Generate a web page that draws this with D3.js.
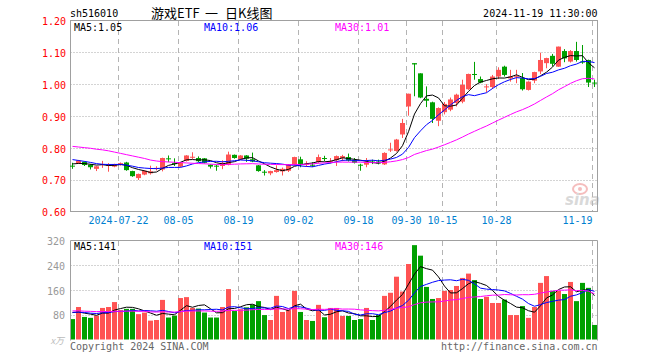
<!DOCTYPE html>
<html><head><meta charset="utf-8">
<script src="https://cdn.jsdelivr.net/npm/d3@7"></script>
<style>body{margin:0;background:#fff}svg{display:block}</style>
</head><body>
<svg id="chart" width="660" height="360"></svg>
<script>
// ---------------- data ----------------
const dates = [
"2024-07-10","2024-07-11","2024-07-12","2024-07-15","2024-07-16","2024-07-17","2024-07-18","2024-07-19","2024-07-22","2024-07-23",
"2024-07-24","2024-07-25","2024-07-26","2024-07-29","2024-07-30","2024-07-31","2024-08-01","2024-08-02","2024-08-05","2024-08-06",
"2024-08-07","2024-08-08","2024-08-09","2024-08-12","2024-08-13","2024-08-14","2024-08-15","2024-08-16","2024-08-19","2024-08-20",
"2024-08-21","2024-08-22","2024-08-23","2024-08-26","2024-08-27","2024-08-28","2024-08-29","2024-08-30","2024-09-02","2024-09-03",
"2024-09-04","2024-09-05","2024-09-06","2024-09-09","2024-09-10","2024-09-11","2024-09-12","2024-09-13","2024-09-18","2024-09-19",
"2024-09-20","2024-09-23","2024-09-24","2024-09-25","2024-09-26","2024-09-27","2024-09-30","2024-10-08","2024-10-09","2024-10-10",
"2024-10-11","2024-10-14","2024-10-15","2024-10-16","2024-10-17","2024-10-18","2024-10-21","2024-10-22","2024-10-23","2024-10-24",
"2024-10-25","2024-10-28","2024-10-29","2024-10-30","2024-10-31","2024-11-01","2024-11-04","2024-11-05","2024-11-06","2024-11-07",
"2024-11-08","2024-11-11","2024-11-12","2024-11-13","2024-11-14","2024-11-15","2024-11-18","2024-11-19"];

const opens = [
.744,.752,.756,.747,.734,.746,.744,.741,.746,.754,
.727,.705,.716,.720,.735,.732,.767,.752,.741,.759,
.770,.768,.767,.747,.744,.743,.746,.778,.764,.776,
.764,.745,.725,.720,.724,.726,.728,.745,.764,.748,
.747,.755,.768,.756,.761,.768,.771,.761,.747,.747,
.757,.757,.748,.793,.790,.842,.930,1.066,1.034,.954,
.943,.885,.912,.920,.941,.945,.984,1.032,1.016,.991,
.991,1.024,1.055,1.018,1.023,1.019,.982,1.011,1.040,1.066,
1.089,1.055,1.104,1.071,1.104,1.071,1.076,1.005];

const highs = [
.753,.762,.757,.749,.743,.759,.752,.750,.754,.756,
.728,.719,.729,.744,.742,.769,.776,.767,.754,.777,
.786,.773,.768,.748,.747,.761,.788,.779,.777,.777,
.785,.746,.730,.728,.745,.738,.749,.772,.772,.758,
.755,.779,.775,.768,.776,.778,.782,.768,.750,.768,
.763,.763,.786,.816,.828,.891,.970,1.066,1.034,.993,
.945,.927,.944,.958,.970,1.014,1.033,1.070,1.024,1.000,
1.029,1.053,1.058,1.045,1.045,1.035,1.009,1.039,1.099,1.083,
1.095,1.118,1.110,1.107,1.133,1.123,1.077,1.014];

const lows = [
.734,.750,.743,.732,.727,.737,.725,.739,.744,.728,
.709,.699,.714,.716,.729,.726,.755,.743,.739,.757,
.765,.755,.751,.735,.728,.733,.745,.766,.762,.756,
.755,.725,.713,.714,.722,.713,.724,.744,.739,.740,
.740,.751,.758,.751,.743,.758,.757,.751,.728,.739,
.749,.748,.746,.787,.788,.831,.901,.962,.956,.928,
.878,.868,.905,.915,.930,.940,.982,1.014,1.003,.974,
.985,1.016,1.024,1.008,1.003,.980,.980,1.003,1.032,1.050,
1.056,1.054,1.069,1.068,1.071,1.064,.991,.991];

const closes = [
.742,.760,.746,.739,.742,.749,.746,.749,.752,.730,
.711,.718,.728,.726,.737,.768,.765,.750,.753,.776,
.772,.758,.753,.741,.742,.753,.779,.768,.776,.766,
.757,.727,.723,.727,.730,.734,.748,.771,.748,.750,
.745,.771,.766,.758,.774,.774,.760,.753,.745,.755,
.755,.751,.784,.795,.826,.878,.970,1.062,.958,.948,
.891,.925,.938,.952,.967,.998,1.032,1.030,1.005,.993,
1.024,1.045,1.029,1.024,1.025,.984,1.008,1.038,1.076,1.082,
1.064,1.118,1.081,1.104,1.076,1.069,1.005,1.003];

// volume, in 10k lots
const volumes = [
66,105,73,70,77,102,105,121,95,99,
99,82,87,61,63,128,71,77,134,137,
102,100,87,71,71,105,163,92,98,104,
113,124,79,63,141,89,95,157,89,63,
60,112,72,102,102,76,76,63,66,102,
63,79,141,151,203,155,244,305,271,170,
131,134,157,160,173,199,213,192,131,138,
118,118,129,79,79,108,70,105,183,205,
157,157,147,186,124,183,167,47];

// sessions before the visible window (needed for the moving averages)
const priorCloses = [.820,.806,.799,.832,.809,.836,.869,.872,.850,.831,.838,.848,.876,.827,.828,
  .795,.780,.783,.806,.802,.788,.775,.771,.780,.770,.752,.748,.750,.755];
const priorVolumes = [95,110,88,102,85,120,90,98,80,105,92,88,115,84,96,
  100,78,94,90,86,98,84,92,88,80,95,92,86,96];

const priceTicks = [0.60,0.70,0.80,0.90,1.00,1.10,1.20];
const volTicks = [80,160,240,320];
const tickDates = ["2024-07-22","2024-08-05","2024-08-19","2024-09-02","2024-09-18","2024-09-30","2024-10-15","2024-10-28","2024-11-19"];
const tickLabels = ["2024-07-22","08-05","08-19","09-02","09-18","09-30","10-15","10-28","11-19"];
const volGridDates = ["2024-07-22","2024-08-05","2024-08-19","2024-09-02","2024-09-18","2024-10-15","2024-10-28","2024-11-19"];
const maPeriods = [5,10,30];
const maColors = ["#000000","#0000ff","#ff00ff"];
const priceMaLabels = ["MA5:1.05","MA10:1.06","MA30:1.01"];
const volMaLabels = ["MA5:141","MA10:151","MA30:146"];
const titleParts = ["游戏ETF","一","日K线图"];

// ---------------- drawing ----------------
const MONO = "'DejaVu Sans Mono', 'Liberation Mono', monospace";
const UP = "#ff5353", DOWN = "#00a000";
const svg = d3.select("#chart");

const x = d3.scaleBand().domain(dates).range([69.5, 597.5]);
const yP = d3.scaleLinear().domain([0.6, 1.2]).range([211.5, 20.5]);
const yV = d3.scaleLinear().domain([0, 320]).range([339.5, 240.5]);
const cx = d => x(d) + 3;

function movingAvg(prior, vals, n) {
  const all = prior.concat(vals), P = prior.length;
  return vals.map((_, i) => d3.mean(all.slice(i + P - n + 1, i + P + 1)));
}

const rows = dates.map((d, i) => ({d, o: opens[i], h: highs[i], l: lows[i], c: closes[i], v: volumes[i]}));
const isUp = r => r.c >= r.o;

// header texts
svg.append("text").attr("x", 70).attr("y", 16.5).attr("font-family", MONO).attr("font-size", 10)
  .attr("fill", "#000").text("sh516010");
const title = svg.append("text").attr("y", 17.5).attr("font-family", "'Noto Sans CJK SC', sans-serif")
  .attr("font-size", 13).attr("fill", "#000");
title.selectAll("tspan").data(titleParts).join("tspan")
  .attr("x", (d, i) => [151, 205, 225][i]).text(d => d);
svg.append("text").attr("x", 597.5).attr("y", 16.5).attr("text-anchor", "end").attr("font-family", MONO)
  .attr("font-size", 10).attr("fill", "#000").text("2024-11-19 11:30:00");

// ----- main panel grid -----
const gMain = svg.append("g");
gMain.selectAll("line.h").data(priceTicks.slice(1, -1)).join("line")
  .attr("x1", 70.5).attr("x2", 597.5).attr("y1", d => Math.round(yP(d)) + 0.5).attr("y2", d => Math.round(yP(d)) + 0.5)
  .attr("stroke", "#a8a8a8").attr("stroke-dasharray", "1,2");
gMain.selectAll("line.v").data(tickDates).join("line")
  .attr("x1", d => x(d) + 1).attr("x2", d => x(d) + 1).attr("y1", 21).attr("y2", 211)
  .attr("stroke", "#b4b4b4").attr("stroke-dasharray", "5,4");

// watermark
const wm = svg.append("g").attr("opacity", 0.55);
wm.append("ellipse").attr("cx", 580).attr("cy", 189).attr("rx", 7).attr("ry", 5).attr("fill", "none").attr("stroke", "#e88").attr("stroke-width", 2);
wm.append("circle").attr("cx", 580).attr("cy", 189).attr("r", 2).attr("fill", "#e88");
wm.append("text").attr("x", 565).attr("y", 205).attr("font-family", "'DejaVu Sans', sans-serif").attr("font-weight", "bold")
  .attr("font-style", "italic").attr("font-size", 15).attr("fill", "#bbb").text("sina");

// frame
svg.append("rect").attr("x", 70.5).attr("y", 20.5).attr("width", 527).attr("height", 191)
  .attr("fill", "none").attr("stroke", "#a0a0a0");

// candles
const gC = svg.append("g");
gC.selectAll("line").data(rows).join("line")
  .attr("x1", r => cx(r.d)).attr("x2", r => cx(r.d))
  .attr("y1", r => yP(r.h)).attr("y2", r => yP(r.l))
  .attr("stroke", r => isUp(r) ? UP : DOWN).attr("stroke-width", 1);
gC.selectAll("rect").data(rows).join("rect")
  .attr("x", r => x(r.d) + 0.5).attr("width", 5)
  .attr("y", r => yP(Math.max(r.o, r.c)))
  .attr("height", r => Math.max(1, Math.abs(yP(r.o) - yP(r.c))))
  .attr("fill", r => isUp(r) ? UP : DOWN);

// price MAs
maPeriods.forEach((n, k) => {
  const ma = movingAvg(priorCloses, closes, n);
  svg.append("path").datum(ma)
    .attr("d", d3.line().x((v, i) => cx(dates[i])).y(v => yP(v)))
    .attr("fill", "none").attr("stroke", maColors[k]).attr("stroke-width", 1);
});

// price axis
const axP = svg.append("g").attr("transform", "translate(70,1)")
  .call(d3.axisLeft(yP).tickValues(priceTicks).tickFormat(d3.format(".2f")).tickSize(0).tickPadding(4));
axP.select(".domain").remove();
axP.selectAll("text").attr("font-family", MONO).attr("font-size", 10).attr("fill", "#ff0000");

// date axis
const axX = svg.append("g").attr("transform", "translate(-2,214)")
  .call(d3.axisBottom(x).tickValues(tickDates).tickFormat((d, i) => tickLabels[i]).tickSize(0).tickPadding(3));
axX.select(".domain").remove();
axX.selectAll("text").attr("font-family", MONO).attr("font-size", 10).attr("fill", "#0080d0");
axX.selectAll("text").filter((d, i) => i === tickDates.length - 1).attr("text-anchor", "end");

// MA labels (price)
[74, 204, 335].forEach((px, k) => {
  svg.append("text").attr("x", px).attr("y", 30.5).attr("font-family", MONO).attr("font-size", 10)
    .attr("fill", maColors[k]).text(priceMaLabels[k]);
});

// ----- volume panel -----
const gV = svg.append("g");
gV.selectAll("line.h").data(volTicks.slice(0, -1)).join("line")
  .attr("x1", 70.5).attr("x2", 597.5).attr("y1", d => Math.round(yV(d)) + 0.5).attr("y2", d => Math.round(yV(d)) + 0.5)
  .attr("stroke", "#a8a8a8").attr("stroke-dasharray", "1,2");
gV.selectAll("line.v").data(volGridDates).join("line")
  .attr("x1", d => x(d) + 1).attr("x2", d => x(d) + 1).attr("y1", 241).attr("y2", 340)
  .attr("stroke", "#b4b4b4").attr("stroke-dasharray", "5,4");

gV.selectAll("rect").data(rows).join("rect")
  .attr("x", r => x(r.d) + 0.5).attr("width", 5)
  .attr("y", r => yV(r.v)).attr("height", r => yV(0) - yV(r.v))
  .attr("fill", r => isUp(r) ? UP : DOWN);

maPeriods.forEach((n, k) => {
  const ma = movingAvg(priorVolumes, volumes, n);
  svg.append("path").datum(ma)
    .attr("d", d3.line().x((v, i) => cx(dates[i])).y(v => yV(v)))
    .attr("fill", "none").attr("stroke", maColors[k]).attr("stroke-width", 1);
});

svg.append("path").attr("d", "M70.5,240.5H597.5V340.5M70.5,240.5V340.5")
  .attr("fill", "none").attr("stroke", "#a0a0a0");

const axV = svg.append("g").attr("transform", "translate(70,1)")
  .call(d3.axisLeft(yV).tickValues(volTicks).tickSize(0).tickPadding(5));
axV.select(".domain").remove();
axV.selectAll("text").attr("font-family", MONO).attr("font-size", 10).attr("fill", "#999");

svg.append("text").attr("x", 64).attr("y", 343.5).attr("text-anchor", "end")
  .attr("font-family", "'Noto Sans CJK SC', sans-serif").attr("font-style", "italic").attr("font-size", 9)
  .attr("fill", "#bbb").text("x万");

[74, 204, 335].forEach((px, k) => {
  svg.append("text").attr("x", px).attr("y", 250).attr("font-family", MONO).attr("font-size", 10)
    .attr("fill", maColors[k]).text(volMaLabels[k]);
});

// footer
svg.append("text").attr("x", 70).attr("y", 349.5).attr("font-family", MONO).attr("font-size", 10)
  .attr("fill", "#666").text("Copyright 2024 SINA.COM");
svg.append("text").attr("x", 597.5).attr("y", 349.5).attr("text-anchor", "end").attr("font-family", MONO)
  .attr("font-size", 10).attr("fill", "#666").text("http://finance.sina.com.cn");
</script>
</body></html>
